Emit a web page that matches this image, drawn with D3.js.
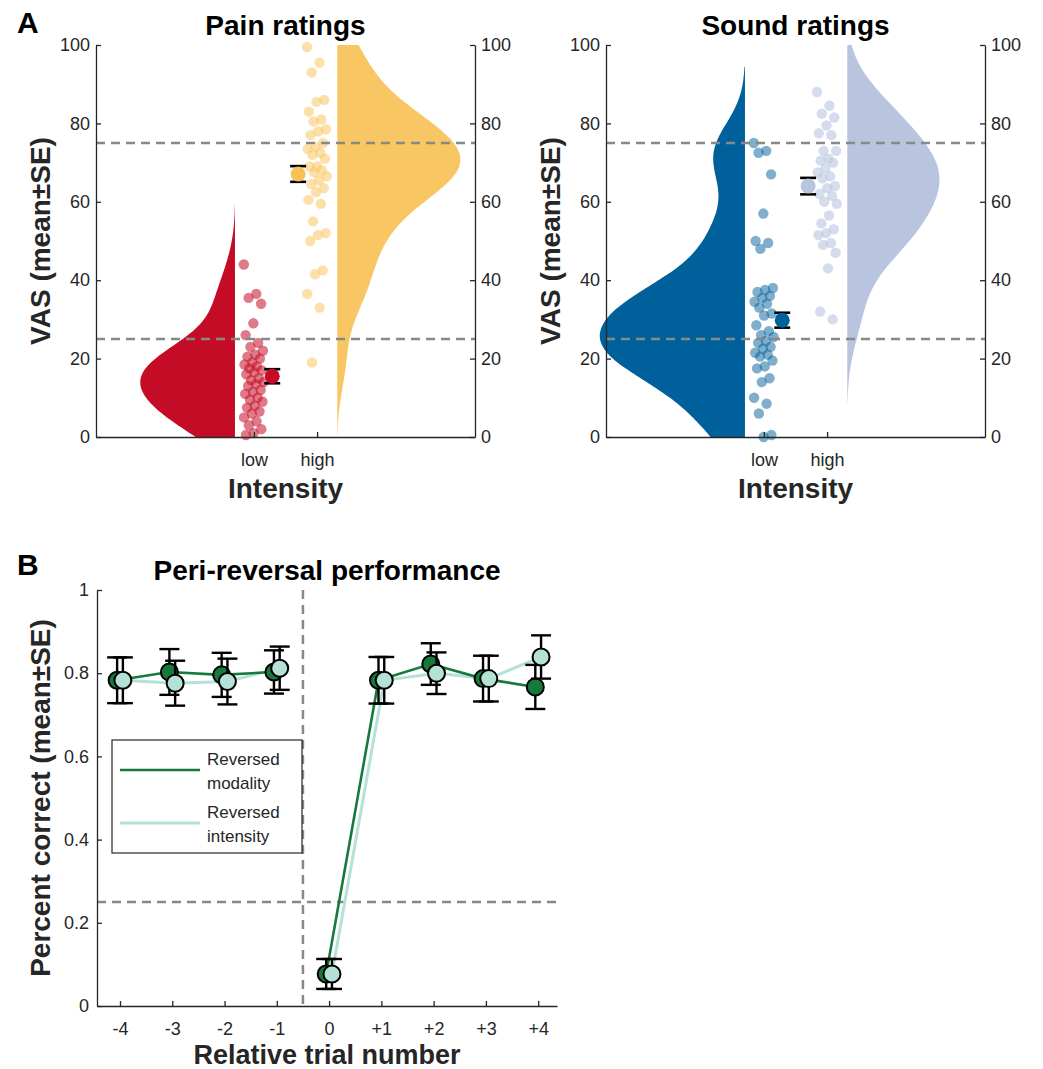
<!DOCTYPE html>
<html><head><meta charset="utf-8">
<script src="https://cdn.jsdelivr.net/npm/d3@7"></script>
<style>
body{margin:0;background:#fff;}
text{font-family:Arial,"Liberation Sans",Helvetica,sans-serif;}
</style>
</head><body>
<svg id="c" width="1043" height="1069"></svg>
<script>
// ---------------- DATA ----------------
const intensityLevels = ["low", "high"];
const painLow = [44, 36.5, 35.5, 34, 29, 26, 24, 23, 22, 21, 20.5, 20, 19, 18.5, 18, 17.5, 17, 16.5, 16, 15, 14.5, 14, 13.5, 13, 12, 11.5, 11, 10, 9.5, 9, 8, 7.5, 6.5, 6, 5, 4, 3, 2, 1, 0.5];
const painHigh = [99.5, 95.5, 93, 86, 85.5, 83, 81, 80.5, 78.5, 78, 77, 75, 74, 73.5, 72.5, 72, 71, 69, 69, 68, 67.5, 66.5, 65.5, 64.5, 63.5, 62.5, 60.5, 59.5, 55, 52, 51.5, 50, 42.5, 41.5, 36.5, 33, 19];
const soundLow = [75, 73, 72.5, 67, 57, 50, 49.5, 48, 38, 37.5, 37, 36, 35.5, 34.5, 34, 33, 31.5, 31, 28.5, 27, 26, 25.5, 24.5, 24, 23, 22.5, 21.5, 21, 20.5, 19.5, 18, 17.5, 15, 14, 10, 8.5, 6, 0.5, 0];
const soundHigh = [88, 84.5, 82.5, 81.5, 79.5, 77.5, 77, 73, 73, 71, 70.5, 70, 68.5, 67.5, 66.5, 66, 64, 63.5, 62, 61.5, 60, 59.5, 56.5, 54.5, 53, 52, 51.5, 49.5, 49, 47, 43, 32, 30];
const painMean = [15.5, 67.1];
const painSE = [1.8, 2.0];
const soundMean = [29.8, 64.0];
const soundSE = [1.9, 2.1];
const vasTicks = [0, 20, 40, 60, 80, 100];
const vasRefLines = [25, 75];

const trialNumbers = [-4, -3, -2, -1, 0, 1, 2, 3, 4];
const trialLabels = ["-4", "-3", "-2", "-1", "0", "+1", "+2", "+3", "+4"];
const modalityMean = [0.783, 0.803, 0.796, 0.803, 0.077, 0.783, 0.822, 0.787, 0.767];
const modalitySE = [0.055, 0.055, 0.053, 0.052, 0.036, 0.056, 0.05, 0.055, 0.053];
const intensityMean = [0.783, 0.776, 0.78, 0.812, 0.077, 0.783, 0.80, 0.787, 0.839];
const intensitySE = [0.055, 0.054, 0.055, 0.052, 0.036, 0.056, 0.05, 0.055, 0.052];
const pctTicks = [0, 0.2, 0.4, 0.6, 0.8, 1];
const pctTickLabels = ["0", "0.2", "0.4", "0.6", "0.8", "1"];
const chanceLevel = 0.25;
const reversalPoint = -0.5;
const legendLabels = [["Reversed", "modality"], ["Reversed", "intensity"]];

// ---------------- STYLE ----------------
const AX = "#262626";
const svg = d3.select("#c");
const FONT = 'Arial,"Liberation Sans",Helvetica,sans-serif';

function styleAxis(g, fs) {
  g.attr("font-family", FONT).attr("font-size", fs);
  g.select(".domain").attr("stroke", AX).attr("stroke-width", 1.3);
  g.selectAll(".tick line").attr("stroke", AX).attr("stroke-width", 1.3);
  g.selectAll(".tick text").attr("fill", AX);
}

function mad(a) { const m = d3.median(a); return d3.median(a, v => Math.abs(v - m)); }
function kde(a, mult) {
  const n = a.length;
  const bw = mult * (mad(a) / 0.6745) * Math.pow(4 / (3 * n), 0.2);
  const lo = d3.min(a) - 2.6 * bw, hi = d3.max(a) + 2.6 * bw;
  return d3.range(121).map(i => {
    const v = lo + (hi - lo) * i / 120;
    return [v, d3.mean(a, d => Math.exp(-0.5 * ((v - d) / bw) ** 2)) / (bw * Math.sqrt(2 * Math.PI))];
  });
}
function jitter(i) { return ((i * 0.6180339887) % 1) - 0.5; }

// ---------------- PANEL A ----------------
const yA = d3.scaleLinear().domain([0, 100]).range([437, 45]);

function rainPanel(cfg) {
  const x = d3.scaleLinear().domain([-1.5, 4.5]).range([cfg.x0, cfg.x1]);
  const g = svg.append("g");
  const clipId = "clip" + cfg.id;
  svg.append("clipPath").attr("id", clipId).append("rect")
    .attr("x", cfg.x0 - 20).attr("y", yA(100)).attr("width", cfg.x1 - cfg.x0 + 40).attr("height", yA(0) - yA(100));

  const sets = [cfg.low, cfg.high];
  sets.forEach((data, k) => {
    const dens = kde(data, cfg.bwMult[k]);
    const maxD = d3.max(dens, d => d[1]);
    const edge = x(k + 1 + (k === 0 ? -0.3 : 0.32));
    const wpx = x(cfg.vw[k]) - x(0);
    const dir = k === 0 ? -1 : 1;
    const area = d3.area().curve(d3.curveBasis)
      .y(d => yA(d[0])).x0(edge).x1(d => edge + dir * d[1] / maxD * wpx);
    g.append("path").attr("d", area(dens)).attr("fill", cfg.colors[k]).attr("clip-path", `url(#${clipId})`);
    g.selectAll(null).data(data).enter().append("circle")
      .attr("cx", (d, i) => x(k + 1 + jitter(i) * 0.32))
      .attr("cy", d => yA(d)).attr("r", 5.2)
      .attr("fill", cfg.colors[k]).attr("fill-opacity", cfg.ptOp[k]);
  });
  vasRefLines.forEach(v => {
    g.append("line").attr("x1", cfg.x0).attr("x2", cfg.x1).attr("y1", yA(v)).attr("y2", yA(v))
      .attr("stroke", "#888").attr("stroke-width", 2.5).attr("stroke-dasharray", "9,6");
  });
  cfg.mean.forEach((m, k) => {
    const cx = x(k + 1 + (k === 0 ? 0.29 : -0.3));
    const se = cfg.se[k];
    const eg = g.append("g").attr("stroke", "#000").attr("stroke-width", 2.6);
    eg.append("line").attr("x1", cx).attr("x2", cx).attr("y1", yA(m - se)).attr("y2", yA(m + se));
    [m - se, m + se].forEach(v => eg.append("line").attr("x1", cx - 8).attr("x2", cx + 8).attr("y1", yA(v)).attr("y2", yA(v)));
    g.append("circle").attr("cx", cx).attr("cy", yA(m)).attr("r", 7.5).attr("fill", cfg.meanColors[k]);
  });
  const ga = svg.append("g").attr("transform", `translate(${cfg.x0},0)`)
    .call(d3.axisLeft(yA).tickValues(vasTicks).tickSizeInner(-5).tickSizeOuter(0).tickPadding(6));
  styleAxis(ga, 18);
  const gr = svg.append("g").attr("transform", `translate(${cfg.x1},0)`)
    .call(d3.axisRight(yA).tickValues(vasTicks).tickSizeInner(-5).tickSizeOuter(0).tickPadding(6));
  styleAxis(gr, 18);
  const gb = svg.append("g").attr("transform", `translate(0,${yA(0)})`)
    .call(d3.axisBottom(x).tickValues([1, 2]).tickFormat(d => intensityLevels[d - 1]).tickSizeInner(-5).tickSizeOuter(0).tickPadding(16));
  styleAxis(gb, 18);
  const cx = (cfg.x0 + cfg.x1) / 2;
  svg.append("text").attr("x", cx).attr("y", 35).attr("text-anchor", "middle")
    .attr("font-weight", "bold").attr("font-size", 28).attr("fill", "#000").text(cfg.title);
  svg.append("text").attr("x", cx).attr("y", 498).attr("text-anchor", "middle")
    .attr("font-weight", "bold").attr("font-size", 28).attr("fill", AX).text("Intensity");
  svg.append("text").attr("transform", `translate(${cfg.x0 - 46},${(yA(0) + yA(100)) / 2}) rotate(-90)`)
    .attr("text-anchor", "middle").attr("font-weight", "bold").attr("font-size", 28).attr("fill", AX).text("VAS (mean±SE)");
}

rainPanel({ id: "p", x0: 96, x1: 475, low: painLow, high: painHigh, mean: painMean, se: painSE, bwMult: [1.3, 1.0],
  colors: ["#C40C27", "#F9C664"], meanColors: ["#C40C27", "#F7C15A"], ptOp: [0.55, 0.55], vw: [1.5, 1.95], title: "Pain ratings" });
rainPanel({ id: "s", x0: 606, x1: 985, low: soundLow, high: soundHigh, mean: soundMean, se: soundSE, bwMult: [1.1, 1.1],
  colors: ["#00609C", "#B9C4DF"], meanColors: ["#00609C", "#B9C4DF"], ptOp: [0.5, 0.6], vw: [2.3, 1.46], title: "Sound ratings" });

svg.append("text").attr("x", 17).attr("y", 33).attr("font-weight", "bold").attr("font-size", 30).attr("fill", "#000").text("A");

// ---------------- PANEL B ----------------
const xB = d3.scaleLinear().domain([-4.44, 4.36]).range([97, 557]);
const yB = d3.scaleLinear().domain([0, 1]).range([1006, 590]);
const gB = svg.append("g");
gB.append("line").attr("x1", xB.range()[0]).attr("x2", xB.range()[1]).attr("y1", yB(chanceLevel)).attr("y2", yB(chanceLevel))
  .attr("stroke", "#888").attr("stroke-width", 2.5).attr("stroke-dasharray", "9,6");
gB.append("line").attr("x1", xB(reversalPoint)).attr("x2", xB(reversalPoint)).attr("y1", yB(1)).attr("y2", yB(0))
  .attr("stroke", "#888").attr("stroke-width", 2.5).attr("stroke-dasharray", "9,6");

const seriesB = [
  { mean: modalityMean, se: modalitySE, color: "#177A3C", off: -0.055, lw: 2.6 },
  { mean: intensityMean, se: intensitySE, color: "#B4E2D6", off: 0.055, lw: 3 }
];
const lineB = s => d3.line().x(d => xB(d.t + s.off)).y(d => yB(d.v));
[seriesB[1], seriesB[0]].forEach(s => {
  const pts = s.mean.map((v, i) => ({ t: trialNumbers[i], v }));
  [pts.filter(p => p.t < reversalPoint), pts.filter(p => p.t > reversalPoint)].forEach(seg => {
    gB.append("path").attr("d", lineB(s)(seg)).attr("fill", "none").attr("stroke", s.color).attr("stroke-width", s.lw);
  });
});
seriesB.forEach(s => {
  s.mean.forEach((m, i) => {
    const cx = xB(trialNumbers[i] + s.off);
    const eg = gB.append("g").attr("stroke", "#000").attr("stroke-width", 2.4);
    eg.append("line").attr("x1", cx).attr("x2", cx).attr("y1", yB(m - s.se[i])).attr("y2", yB(m + s.se[i]));
    [m - s.se[i], m + s.se[i]].forEach(v => eg.append("line").attr("x1", cx - 10).attr("x2", cx + 10).attr("y1", yB(v)).attr("y2", yB(v)));
  });
  gB.selectAll(null).data(s.mean).enter().append("circle")
    .attr("cx", (d, i) => xB(trialNumbers[i] + s.off)).attr("cy", d => yB(d)).attr("r", 8.5)
    .attr("fill", s.color).attr("stroke", "#000").attr("stroke-width", 2);
});

const gBl = svg.append("g").attr("transform", `translate(${xB.range()[0]},0)`)
  .call(d3.axisLeft(yB).tickValues(pctTicks).tickFormat((d, i) => pctTickLabels[i]).tickSizeInner(-5).tickSizeOuter(0).tickPadding(8));
styleAxis(gBl, 18);
const gBb = svg.append("g").attr("transform", `translate(0,${yB(0)})`)
  .call(d3.axisBottom(xB).tickValues(trialNumbers).tickFormat((d, i) => trialLabels[i]).tickSizeInner(-5).tickSizeOuter(0).tickPadding(16));
styleAxis(gBb, 18);

const lg = svg.append("g");
lg.append("rect").attr("x", 112).attr("y", 740).attr("width", 190).attr("height", 113)
  .attr("fill", "#fff").attr("stroke", AX).attr("stroke-width", 1.2);
[[seriesB[0], 770, 765], [seriesB[1], 823, 818]].forEach(([s, ly, ty], k) => {
  lg.append("line").attr("x1", 120).attr("x2", 200).attr("y1", ly).attr("y2", ly).attr("stroke", s.color).attr("stroke-width", s.lw);
  const t = lg.append("text").attr("x", 207).attr("y", ty).attr("font-size", 17).attr("fill", AX);
  t.append("tspan").attr("x", 207).text(legendLabels[k][0]);
  t.append("tspan").attr("x", 207).attr("dy", 24).text(legendLabels[k][1]);
});

svg.append("text").attr("x", 327).attr("y", 580).attr("text-anchor", "middle")
  .attr("font-weight", "bold").attr("font-size", 28).attr("fill", "#000").text("Peri-reversal performance");
svg.append("text").attr("x", 327).attr("y", 1064).attr("text-anchor", "middle")
  .attr("font-weight", "bold").attr("font-size", 27).attr("fill", AX).text("Relative trial number");
svg.append("text").attr("transform", `translate(50,${(yB(0) + yB(1)) / 2}) rotate(-90)`)
  .attr("text-anchor", "middle").attr("font-weight", "bold").attr("font-size", 28).attr("fill", AX).text("Percent correct (mean±SE)");
svg.append("text").attr("x", 17).attr("y", 575).attr("font-weight", "bold").attr("font-size", 30).attr("fill", "#000").text("B");
</script>
</body></html>
